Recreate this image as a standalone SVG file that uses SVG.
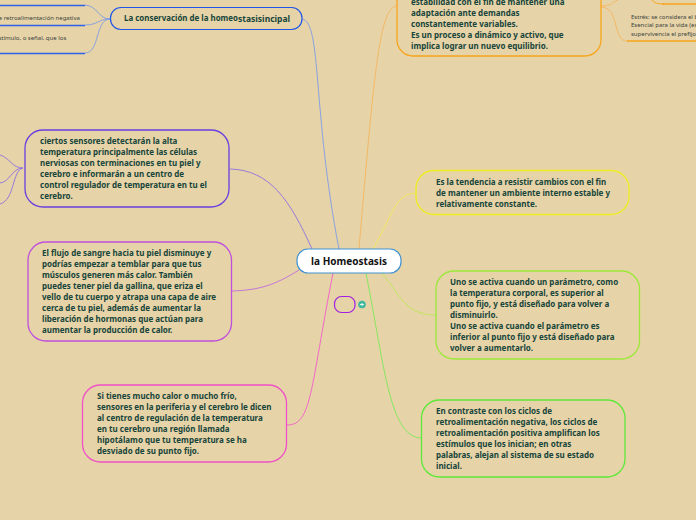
<svg xmlns="http://www.w3.org/2000/svg" width="696" height="520" viewBox="0 0 696 520">
<style>
.t{font-family:"Noto Sans","Open Sans","DejaVu Sans",sans-serif;font-weight:700;font-size:8px;fill:#17453b}
.s{font-family:"Noto Sans","Open Sans","DejaVu Sans",sans-serif;font-size:6px;fill:#40443f}
.b{fill:none;stroke-width:1.300}
.c{fill:none;stroke-width:.9}
</style>
<rect width="696" height="520" fill="#e6d3a7"/>
<g id="connectors">
<path class="c" stroke="#7f9be6" d="M302 19C322 22 312 110 339 249"/>
<path class="c" stroke="#f5b45f" d="M397 6C380 8 375 60 359 249"/>
<path class="c" stroke="#f0ea5c" d="M415 193C395 195 395 210 373 249"/>
<path class="c" stroke="#bde85a" d="M436 315C405 315 400 295 382 273"/>
<path class="c" stroke="#7ee85a" d="M422 438C390 438 385 370 366 273"/>
<path class="c" stroke="#f05cc8" d="M287 425C312 425 310 390 333 273"/>
<path class="c" stroke="#c06cdc" d="M232 291C260 290 275 285 299 270"/>
<path class="c" stroke="#8f70e0" d="M230 169C270 170 290 200 312 249"/>
<path class="c" stroke="#8f70e0" d="M23 168C12 168 10 158 0 155"/>
<path class="c" stroke="#8f70e0" d="M23 168C12 168 10 182 0 183"/>
<path class="c" stroke="#8f70e0" d="M23 168C12 170 15 200 0 204"/>
<path class="c" stroke="#7f9be6" d="M110 19C98 19 98 6 85 5"/>
<path class="c" stroke="#7f9be6" d="M110 19C98 19 98 25 85 25"/>
<path class="c" stroke="#7f9be6" d="M110 19C95 19 100 53 85 53"/>
<path class="c" stroke="#f5b45f" d="M601 6C612 6 612 2 618 0"/>
<path class="c" stroke="#f5b45f" d="M601 7C620 7 612 41 627 41"/>
<path d="M0 5.500H85M0 25.500H85M0 53.500H85" fill="none" stroke="#2f62e8" stroke-width="1.500"/>
<path d="M627 41H696M662 4H696" fill="none" stroke="#f7a51d" stroke-width="1.500"/>
<path d="M652 0C654 3 658 4 664 4" fill="none" stroke="#f7a51d" stroke-width="1"/>
</g>
<g id="n-main"><rect x="297" y="249" width="104" height="24" rx="11" fill="#fff" stroke="#3f92d2" stroke-width="1.200"/><text x="349" y="265" text-anchor="middle" style="font-family:'Noto Sans','Open Sans',sans-serif;font-weight:700;font-size:10px;fill:#111">la Homeostasis</text></g>
<g id="n-conservacion"><rect x="110.500" y="7.500" width="191.500" height="22" rx="10.500" fill="none" stroke="#1f56e8" stroke-width="1.200"/><text class="t" x="124" y="21" textLength="114" lengthAdjust="spacingAndGlyphs" style="font-size:8.500px">La conservación de la homeo</text><text class="t" x="238" y="22" style="font-size:8.500px">stasisincipal</text></g>
<g id="n-estabilidad"><rect class="b" x="397" y="-60" width="204" height="116" rx="16" stroke="#f7a51d"/><text class="t"><tspan x="411" y="5">estabilidad con el fin de mantener una</tspan><tspan x="411" y="16">adaptación ante demandas</tspan><tspan x="411" y="27">constantemente variables.</tspan><tspan x="411" y="38">Es un proceso a dinámico y activo, que</tspan><tspan x="411" y="49">implica lograr un nuevo equilibrio.</tspan></text></g>
<g id="n-estres"><text class="s"><tspan x="631" y="19">Estrés: se considera el bien</tspan><tspan x="631" y="27">Esencial para la vida (es</tspan><tspan x="631" y="36">supervivencia el prefijo</tspan></text></g>
<g id="n-tendencia"><rect class="b" x="416" y="170.500" width="213" height="44" rx="18" stroke="#eeee22"/><text class="t"><tspan x="436" y="185">Es la tendencia a resistir cambios con el fin</tspan><tspan x="436" y="196">de mantener un ambiente interno estable y</tspan><tspan x="436" y="207">relativamente constante.</tspan></text></g>
<g id="n-activa"><rect class="b" x="436" y="271" width="203.500" height="88" rx="18" stroke="#9de83a"/><text class="t"><tspan x="450" y="285">Uno se activa cuando un parámetro, como</tspan><tspan x="450" y="296">la temperatura corporal, es superior al</tspan><tspan x="450" y="307">punto fijo, y está diseñado para volver a</tspan><tspan x="450" y="318">disminuirlo.</tspan><tspan x="450" y="329">Uno se activa cuando el parámetro es</tspan><tspan x="450" y="340">inferior al punto fijo y está diseñado para</tspan><tspan x="450" y="351">volver a aumentarlo.</tspan></text></g>
<g id="n-contraste"><rect class="b" x="421.500" y="400" width="203.500" height="77" rx="18" stroke="#5ee83a"/><text class="t"><tspan x="436" y="414">En contraste con los ciclos de</tspan><tspan x="436" y="425">retroalimentación negativa, los ciclos de</tspan><tspan x="436" y="436">retroalimentación positiva amplifican los</tspan><tspan x="436" y="447">estímulos que los inician; en otras</tspan><tspan x="436" y="458">palabras, alejan al sistema de su estado</tspan><tspan x="436" y="469">inicial.</tspan></text></g>
<g id="n-sensores"><rect class="b" x="25" y="130" width="204" height="77" rx="18" stroke="#6a3fe0"/><text class="t"><tspan x="40" y="144">ciertos sensores detectarán la alta</tspan><tspan x="40" y="155">temperatura principalmente las células</tspan><tspan x="40" y="166">nerviosas con terminaciones en tu piel y</tspan><tspan x="40" y="177">cerebro e informarán a un centro de</tspan><tspan x="40" y="188">control regulador de temperatura en tu el</tspan><tspan x="40" y="199">cerebro.</tspan></text></g>
<g id="n-flujo"><rect class="b" x="28" y="242" width="203.500" height="99" rx="18" stroke="#c050dc"/><text class="t"><tspan x="42" y="256">El flujo de sangre hacia tu piel disminuye y</tspan><tspan x="42" y="267">podrías empezar a temblar para que tus</tspan><tspan x="42" y="278">músculos generen más calor. También</tspan><tspan x="42" y="289">puedes tener piel da gallina, que eriza el</tspan><tspan x="42" y="300">vello de tu cuerpo y atrapa una capa de aire</tspan><tspan x="42" y="311">cerca de tu piel, además de aumentar la</tspan><tspan x="42" y="322">liberación de hormonas que actúan para</tspan><tspan x="42" y="333">aumentar la producción de calor.</tspan></text></g>
<g id="n-calor"><rect class="b" x="82.500" y="385" width="204" height="77" rx="18" stroke="#f050c8"/><text class="t"><tspan x="97" y="399">Si tienes mucho calor o mucho frío,</tspan><tspan x="97" y="410">sensores en la periferia y el cerebro le dicen</tspan><tspan x="97" y="421">al centro de regulación de la temperatura</tspan><tspan x="97" y="432">en tu cerebro una región llamada</tspan><tspan x="97" y="443">hipotálamo que tu temperatura se ha</tspan><tspan x="97" y="454">desviado de su punto fijo.</tspan></text></g>
<g id="n-empty"><rect x="334.500" y="296.500" width="20.500" height="16" rx="7" fill="none" stroke="#a020e0" stroke-width="1.200"/><circle cx="362" cy="304.500" r="3.800" fill="#3fb8a0"/><path d="M360 304.500h4M362 303v3" stroke="#e6f5ea" stroke-width="1"/></g>
<g id="n-left"><text class="s"><tspan x="-5" y="20">de retroalimentación negativa</tspan><tspan x="-5" y="40">estímulo, o señal, que los</tspan></text></g>
</svg>
